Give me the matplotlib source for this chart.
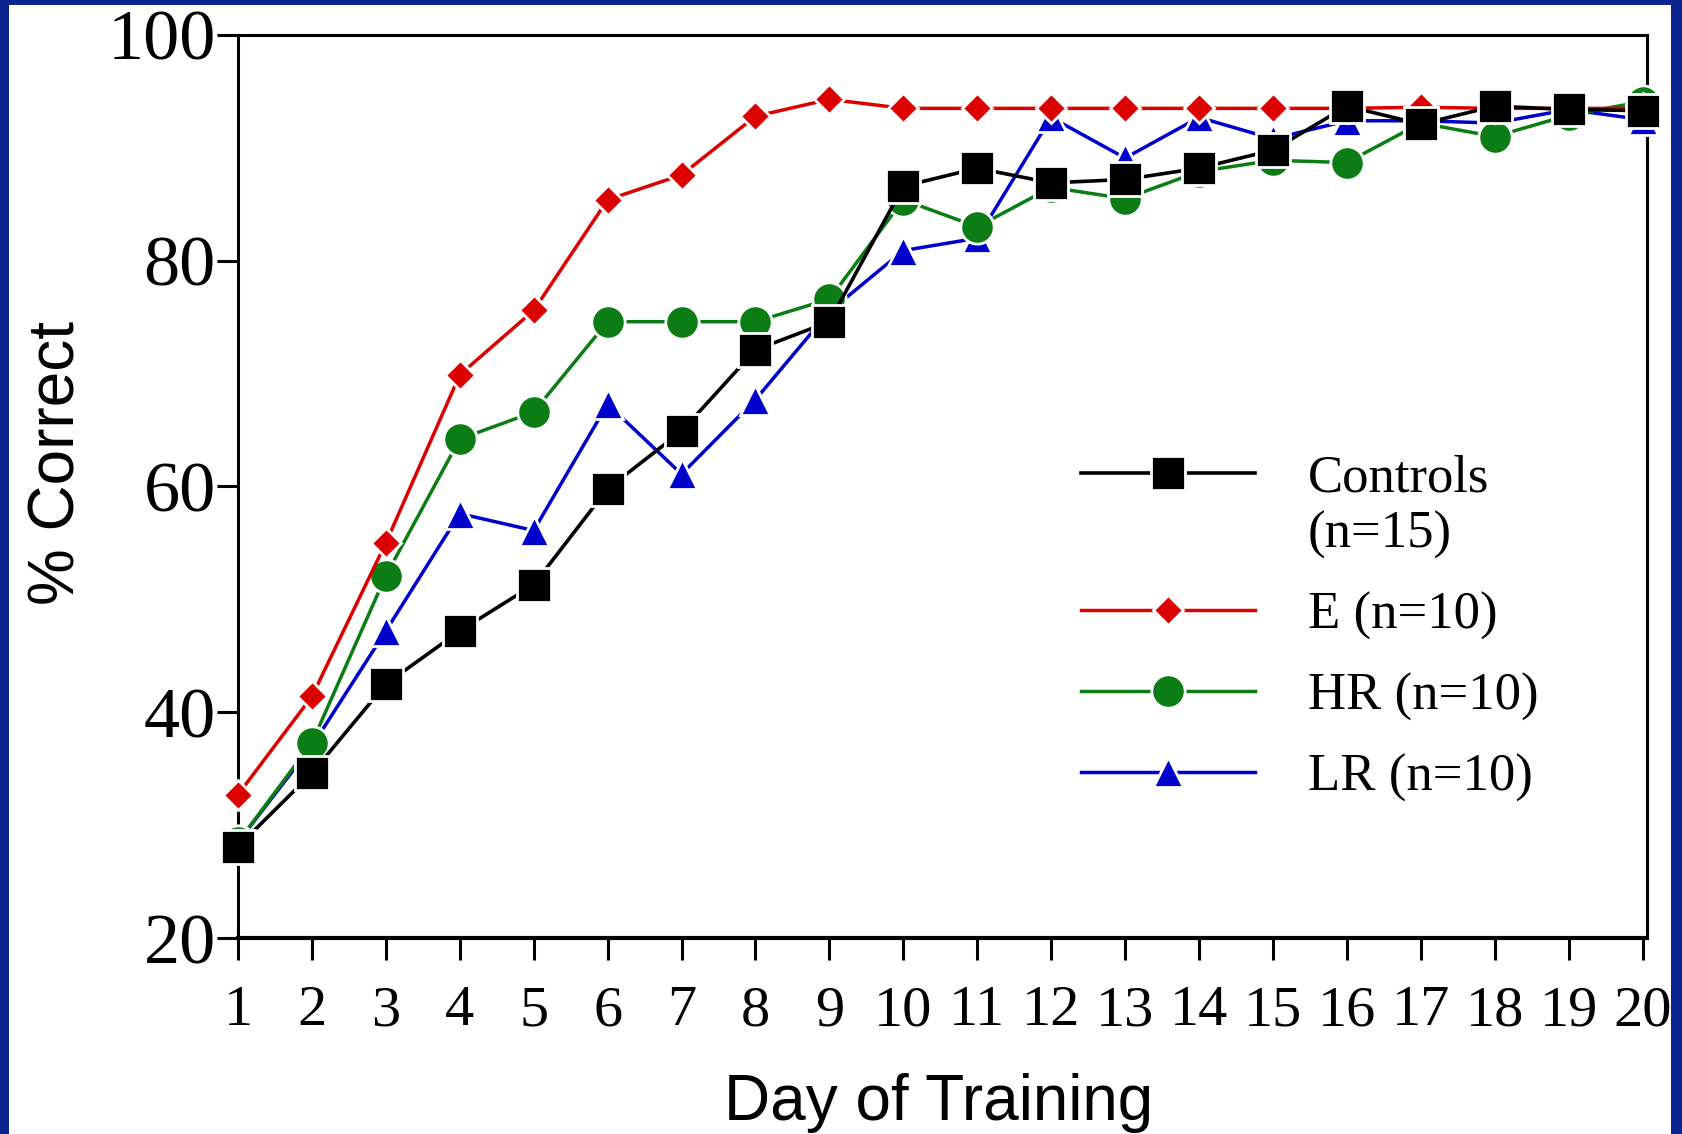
import matplotlib
matplotlib.use("Agg")
import matplotlib.pyplot as plt
from matplotlib.patches import Rectangle

# datos
dias = list(range(1, 21))
controls = [28.1, 34.6, 42.5, 47.2, 51.3, 59.8, 64.9, 72.1, 74.6, 86.6,
            88.2, 86.9, 87.2, 88.2, 89.8, 93.7, 92.1, 93.7, 93.4, 93.3]
grupo_e = [32.7, 41.4, 55.0, 69.9, 75.6, 85.4, 87.6, 92.8, 94.3, 93.5,
           93.5, 93.5, 93.5, 93.5, 93.5, 93.5, 93.6, 93.5, 93.5, 93.5]
grupo_hr = [28.5, 37.3, 52.1, 64.2, 66.6, 74.6, 74.6, 74.6, 76.6, 85.4,
            83.0, 86.5, 85.5, 87.9, 88.9, 88.7, 92.2, 91.0, 92.9, 94.1]
grupo_lr = [28.5, 37.0, 47.2, 57.6, 56.1, 67.3, 61.1, 67.7, 75.5, 80.9,
            82.0, 92.7, 89.1, 92.7, 90.8, 92.4, 92.4, 92.2, 93.4, 92.5]
etiquetas = ['Controls\n(n=15)', 'E (n=10)', 'HR (n=10)', 'LR (n=10)']
y_ticks = [20, 40, 60, 80, 100]

serif = ['Liberation Serif', 'DejaVu Serif']
sans = ['Liberation Sans', 'DejaVu Sans']

fig = plt.figure(figsize=(16.82, 11.34), dpi=100)
fig.patch.set_facecolor('#0a2590')
# fondo blanco dentro del marco azul
fig.add_artist(Rectangle((9 / 1682, 0), 1662 / 1682, 1129 / 1134,
                         transform=fig.transFigure, facecolor='white',
                         edgecolor='none', zorder=-10))

ax = fig.add_axes([238 / 1682, 196 / 1134, 1409 / 1682, 903 / 1134])
ax.set_facecolor('white')

estilo = dict(markeredgecolor='white', markeredgewidth=2, clip_on=False)
l_lr, = ax.plot(dias, grupo_lr, color='#0000cc', lw=2.5, marker='^',
                markersize=22, zorder=3, **estilo)
l_hr, = ax.plot(dias, grupo_hr, color='#0b7d14', lw=2.5, marker='o',
                markersize=24, zorder=4, **estilo)
l_e, = ax.plot(dias, grupo_e, color='#dd0000', lw=2.5, marker='D',
               markersize=15, zorder=5, **estilo)
l_c, = ax.plot(dias, controls, color='black', lw=2.6, marker='s',
               markersize=24, zorder=6, **estilo)

ax.set_xlim(1, 20.06)
ax.set_ylim(20, 100)
ax.set_xticks(dias)
ax.set_yticks(y_ticks)

for lado in ['left', 'top', 'right']:
    ax.spines[lado].set_linewidth(2.2)
ax.spines['bottom'].set_linewidth(3)

ax.tick_params(axis='y', direction='out', length=15, width=2.2, pad=1,
               labelsize=52)
ax.tick_params(axis='x', direction='out', length=16, width=2.2, pad=18,
               labelsize=42)
for t in ax.get_xticklabels() + ax.get_yticklabels():
    t.set_family(serif)

ax.set_ylabel('% Correct', fontsize=46, family=sans)
ax.yaxis.set_label_coords(-0.107, 0.526)
ax.set_xlabel('Day of Training', fontsize=46, family=sans, va='top')
ax.xaxis.set_label_coords(0.4975, -0.15)

leyenda = ax.legend([l_c, l_e, l_hr, l_lr], etiquetas, loc='upper left',
                    bbox_to_anchor=(0.598, 0.535), frameon=False,
                    prop={'family': serif, 'size': 38}, handlelength=3.3,
                    handletextpad=1.0, labelspacing=0.62, borderpad=0,
                    borderaxespad=0, numpoints=1)
# la muestra de Controls va con la primera linea del texto
fila_controls = leyenda._legend_handle_box.get_children()[0].get_children()[0]
fila_controls.align = 'top'

fig.savefig('out.png', dpi=100, facecolor=fig.get_facecolor())
